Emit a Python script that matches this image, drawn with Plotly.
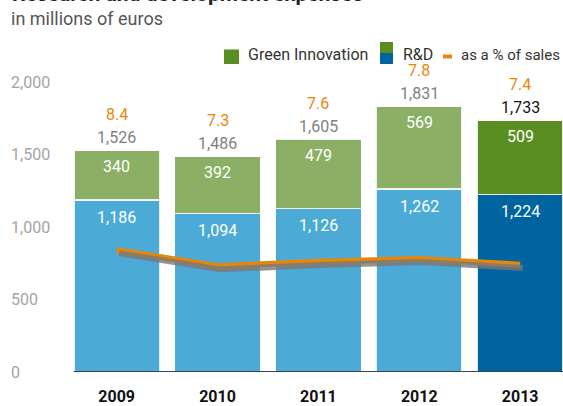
import plotly.graph_objects as go

# ---------------- data ----------------
years = ["2009", "2010", "2011", "2012", "2013"]
rd_values = [1186, 1094, 1126, 1262, 1224]
green_values = [340, 392, 479, 569, 509]
totals = [1526, 1486, 1605, 1831, 1733]
pct_of_sales = [8.4, 7.3, 7.6, 7.8, 7.4]
y_ticks = [0, 500, 1000, 1500, 2000]
y_tick_labels = ["0", "500", "1,000", "1,500", "2,000"]

# ---------------- style ----------------
W, H = 563, 406
ML, MR, MT, MB = 8, 0, 82, 34
FONT = "Roboto"
LIGHT_GREEN = "#8bb065"
DARK_GREEN = "#5a8d22"
LIGHT_BLUE = "#4babd6"
DARK_BLUE = "#0064a0"
ORANGE = "#e8860a"
blue_colors = [LIGHT_BLUE] * 4 + [DARK_BLUE]
green_colors = [LIGHT_GREEN] * 4 + [DARK_GREEN]
total_colors = ["#7f7f7f"] * 4 + ["#111111"]

pw, ph = W - ML - MR, H - MT - MB


def px(x):
    return (x - ML) / pw


def py(y):
    return (H - MB - y) / ph


X_RANGE = [-1.077, 4.425]

fig = go.Figure()
fig.add_trace(go.Bar(
    x=years, y=rd_values, marker=dict(color=blue_colors, line=dict(color="rgba(255,255,255,0.85)", width=1.5)),
    showlegend=False, hoverinfo="skip"))
fig.add_trace(go.Bar(
    x=years, y=green_values, marker=dict(color=green_colors, line=dict(color="rgba(255,255,255,0.85)", width=1.5)),
    showlegend=False, hoverinfo="skip"))

# shadow of the percentage line
fig.add_trace(go.Scatter(
    x=years, y=pct_of_sales, xaxis="x2", yaxis="y3", mode="lines",
    line=dict(color="rgba(120,120,120,0.8)", width=6), showlegend=False, hoverinfo="skip"))
fig.add_trace(go.Scatter(
    x=years, y=pct_of_sales, yaxis="y2", mode="lines",
    line=dict(color=ORANGE, width=6), showlegend=False, hoverinfo="skip"))

annotations = []
for i, yr in enumerate(years):
    annotations.append(dict(x=i, y=totals[i], xref="x", yref="y", yshift=36, text=f"{pct_of_sales[i]:.1f}",
                            showarrow=False, font=dict(family=FONT, size=16, color=ORANGE)))
    annotations.append(dict(x=i, y=totals[i], xref="x", yref="y", yshift=13, text=f"{totals[i]:,}",
                            showarrow=False, font=dict(family=FONT, size=16, color=total_colors[i])))
    annotations.append(dict(x=i, y=totals[i], xref="x", yref="y", yshift=-16, text=f"{green_values[i]:,}",
                            showarrow=False, font=dict(family=FONT, size=16, color="white")))
    annotations.append(dict(x=i, y=rd_values[i], xref="x", yref="y", yshift=-17, text=f"{rd_values[i]:,}",
                            showarrow=False, font=dict(family=FONT, size=16, color="white")))

# title / subtitle
annotations.append(dict(x=px(10), y=py(8), xref="paper", yref="paper", xanchor="left", yanchor="bottom",
                        text="<b>Research and development expenses</b>", showarrow=False,
                        font=dict(family=FONT, size=21, color="#222222")))
annotations.append(dict(x=px(9), y=py(18), xref="paper", yref="paper", xanchor="left", yanchor="middle",
                        text="in millions of euros", showarrow=False,
                        font=dict(family=FONT, size=18, color="#555555")))
# legend text
for txt, xpos, fs in [("Green Innovation", 246, 16), ("R&amp;D", 401, 16), ("as a % of sales", 459, 15)]:
    annotations.append(dict(x=px(xpos), y=py(55), xref="paper", yref="paper", xanchor="left", yanchor="middle",
                            text=txt, showarrow=False, font=dict(family=FONT, size=fs, color="#333333")))

shapes = [
    # baseline
    dict(type="line", xref="x", yref="y", x0=-0.425, x1=4.6, y0=0, y1=0,
         line=dict(color="#37474f", width=2), layer="above"),
    # legend icons
    dict(type="rect", xref="paper", yref="paper", x0=px(224), x1=px(239), y0=py(64), y1=py(49.5),
         fillcolor=DARK_GREEN, line=dict(width=0)),
    dict(type="rect", xref="paper", yref="paper", x0=px(380), x1=px(393), y0=py(53), y1=py(42),
         fillcolor=DARK_GREEN, line=dict(width=0)),
    dict(type="rect", xref="paper", yref="paper", x0=px(380), x1=px(393), y0=py(64), y1=py(53),
         fillcolor=DARK_BLUE, line=dict(width=0)),
    dict(type="line", xref="paper", yref="paper", x0=px(443), x1=px(452), y0=py(56.5), y1=py(56.5),
         line=dict(color=ORANGE, width=4)),
]

fig.update_layout(
    width=W, height=H, margin=dict(l=ML, r=MR, t=MT, b=MB, autoexpand=False),
    paper_bgcolor="white", plot_bgcolor="white",
    barmode="stack", bargap=0.15,
    font=dict(family=FONT),
    xaxis=dict(type="category", range=X_RANGE, showgrid=False, zeroline=False, showline=False,
               ticks="", tickfont=dict(family=FONT, size=16, color="#111111", weight="bold"),
               ticklabelstandoff=13),
    xaxis2=dict(type="category", range=[X_RANGE[0] - 0.025, X_RANGE[1] - 0.025], overlaying="x",
                visible=False),
    yaxis=dict(range=[0, 2000], tickvals=y_ticks, ticktext=y_tick_labels, showgrid=False,
               zeroline=False, showline=False, ticks="", ticklabelposition="inside",
               ticklabeloverflow="allow", tickfont=dict(family=FONT, size=16, color="#a4a4a4")),
    yaxis2=dict(range=[0, 20], overlaying="y", visible=False),
    yaxis3=dict(range=[0.22, 20.22], overlaying="y", visible=False),
    annotations=annotations, shapes=shapes, showlegend=False,
)

fig.write_html("out.html", config={"displayModeBar": False},
               post_script="document.body.style.margin='0';document.body.style.padding='0';")
